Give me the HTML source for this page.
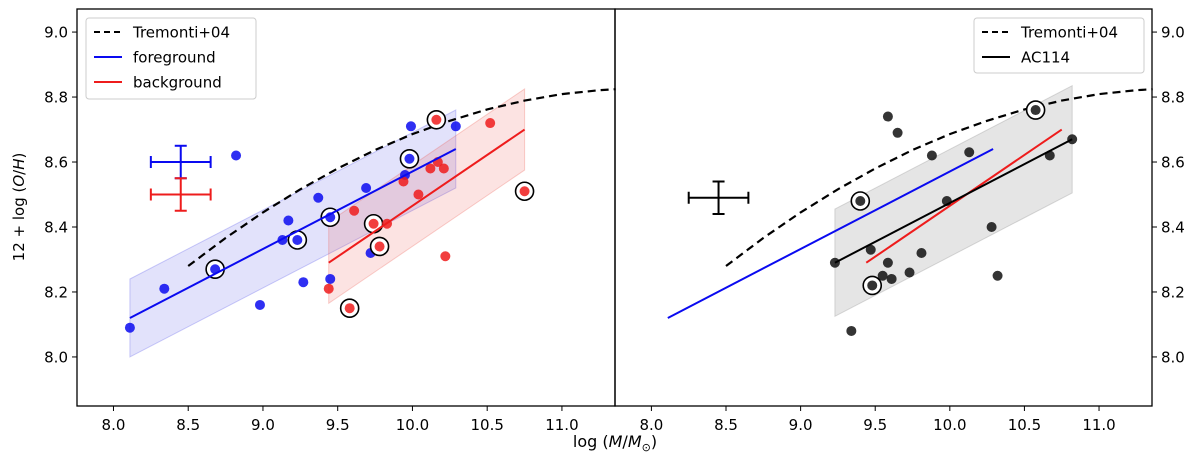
<!DOCTYPE html>
<html><head><meta charset="utf-8">
<style>
html,body{margin:0;padding:0;background:#fff;}
svg{display:block;font-family:"DejaVu Sans","Liberation Sans",sans-serif;}
</style></head>
<body>
<svg id="chart" width="1200" height="460" viewBox="0 0 1200 460" xmlns="http://www.w3.org/2000/svg"></svg>
<script>
// ---- data ----
const xTicks = [8.0, 8.5, 9.0, 9.5, 10.0, 10.5, 11.0];
const xTickLabels = ["8.0","8.5","9.0","9.5","10.0","10.5","11.0"];
const yTicks = [8.0, 8.2, 8.4, 8.6, 8.8, 9.0];
const yTickLabels = ["8.0","8.2","8.4","8.6","8.8","9.0"];
const tremontiX = [8.5, 8.75, 9.0, 9.25, 9.5, 9.75, 10.0, 10.25, 10.5, 10.75, 11.0, 11.25, 11.36];
const tremontiY = [8.28, 8.366, 8.445, 8.516, 8.58, 8.637, 8.686, 8.727, 8.762, 8.789, 8.809, 8.821, 8.824];
const fgMass = [8.11, 8.34, 8.68, 8.82, 8.98, 9.13, 9.23, 9.17, 9.27, 9.37, 9.45, 9.45, 9.69, 9.72, 9.95, 9.98, 9.99, 10.29];
const fgOH   = [8.09, 8.21, 8.27, 8.62, 8.16, 8.36, 8.36, 8.42, 8.23, 8.49, 8.43, 8.24, 8.52, 8.32, 8.56, 8.61, 8.71, 8.71];
const fgCircled = [0,0,1,0,0,0,1,0,0,0,1,0,0,0,0,1,0,0];
const bgMass = [9.44, 9.58, 9.61, 9.74, 9.83, 9.78, 9.94, 10.04, 10.12, 10.17, 10.21, 10.16, 10.22, 10.52, 10.75];
const bgOH   = [8.21, 8.15, 8.45, 8.41, 8.41, 8.34, 8.54, 8.50, 8.58, 8.60, 8.58, 8.73, 8.31, 8.72, 8.51];
const bgCircled = [0,1,0,1,0,1,0,0,0,0,0,1,0,0,1];
const acMass = [9.585, 9.65, 9.40, 9.88, 10.13, 10.575, 10.67, 10.82, 9.98, 10.28, 10.32, 9.23, 9.47, 9.585, 9.81, 9.55, 9.61, 9.73, 9.48, 9.34];
const acOH   = [8.74, 8.69, 8.48, 8.62, 8.63, 8.76, 8.62, 8.67, 8.48, 8.40, 8.25, 8.29, 8.33, 8.29, 8.32, 8.25, 8.24, 8.26, 8.22, 8.08];
const acCircled = [0,0,1,0,0,1,0,0,0,0,0,0,0,0,0,0,0,0,1,0];
const fgFitX = [8.11, 10.29]; const fgFitY = [8.12, 8.64]; const fgBand = 0.12;
const bgFitX = [9.44, 10.75]; const bgFitY = [8.29, 8.70]; const bgBand = 0.125;
const acFitX = [9.23, 10.82]; const acFitY = [8.29, 8.67]; const acBand = 0.165;
const errFg = [8.45, 8.60, 0.2, 0.05];
const errBg = [8.45, 8.50, 0.2, 0.05];
const errAc = [8.45, 8.49, 0.2, 0.05];

const NS = "http://www.w3.org/2000/svg";
const svg = document.getElementById('chart');
const XMIN = 7.756, XMAX = 11.355, YMIN = 7.849, YMAX = 9.071;
const TOP = 9, BOT = 406;
const panels = [{l:77, r:615}, {l:615, r:1152}];
function sx(p, v){ return p.l + (v - XMIN) / (XMAX - XMIN) * (p.r - p.l); }
function sy(v){ return BOT - (v - YMIN) / (YMAX - YMIN) * (BOT - TOP); }
function el(tag, attrs, parent){ const e = document.createElementNS(NS, tag); for (const k in attrs) e.setAttribute(k, attrs[k]); (parent||svg).appendChild(e); return e; }

const BLUE = "#0a0af0", RED = "#ee1c1c";

function band(p, fx, fy, w, fill, stroke, name){
  const pts = [[fx[0], fy[0]+w],[fx[1], fy[1]+w],[fx[1], fy[1]-w],[fx[0], fy[0]-w]].map(q => sx(p,q[0]).toFixed(1)+","+sy(q[1]).toFixed(1)).join(" ");
  const e = el('polygon', {points: pts, fill: fill, stroke: stroke, 'stroke-width': 1});
  
  
}
function line(p, fx, fy, color, name){
  const e = el('line', {x1: sx(p,fx[0]), y1: sy(fy[0]), x2: sx(p,fx[1]), y2: sy(fy[1]), stroke: color, 'stroke-width': 2});
  
  
}
function tremonti(p, name){
  const d = tremontiX.map((x,i) => (i?"L":"M") + sx(p,x).toFixed(1) + "," + sy(tremontiY[i]).toFixed(1)).join(" ");
  const e = el('path', {d: d, fill: 'none', stroke: '#000', 'stroke-width': 2.2, 'stroke-dasharray': '8,5'});
  
  
}
function points(p, xs, ys, circ, color, name){
  const g = el('g', {});
  
  
  xs.forEach((x,i) => {
    const cx = sx(p,x), cy = sy(ys[i]);
    if (circ[i]) {
      const c = el('circle', {cx: cx, cy: cy, r: 9, fill: '#fff', stroke: '#000', 'stroke-width': 1.6}, g);
      
      
    }
    const d = el('circle', {cx: cx, cy: cy, r: 5, fill: color, 'fill-opacity': 0.85}, g);
    
    
  });
}
function errbar(p, e, color, name){
  const g = el('g', {stroke: color, 'stroke-width': 2});
  
  
  const cx = sx(p,e[0]), cy = sy(e[1]);
  const x0 = sx(p,e[0]-e[2]), x1 = sx(p,e[0]+e[2]), y0 = sy(e[1]+e[3]), y1 = sy(e[1]-e[3]);
  el('line', {x1:x0, y1:cy, x2:x1, y2:cy}, g);
  el('line', {x1:cx, y1:y0, x2:cx, y2:y1}, g);
  el('line', {x1:x0, y1:cy-6, x2:x0, y2:cy+6}, g);
  el('line', {x1:x1, y1:cy-6, x2:x1, y2:cy+6}, g);
  el('line', {x1:cx-6, y1:y0, x2:cx+6, y2:y0}, g);
  el('line', {x1:cx-6, y1:y1, x2:cx+6, y2:y1}, g);
}
function text(x, y, s, anchor, name, extra){
  const t = el('text', Object.assign({x:x, y:y, 'font-size': 15, 'text-anchor': anchor||'start', fill:'#000'}, extra||{}));
  t.textContent = s;
  
  
  return t;
}
function axes(p, idx){
  const frame = el('rect', {x:p.l, y:TOP, width:p.r-p.l, height:BOT-TOP, fill:'none', stroke:'#000', 'stroke-width':1.3});
  
  
  xTicks.forEach((v,i) => {
    const x = sx(p,v);
    el('line', {x1:x, y1:BOT, x2:x, y2:BOT+5, stroke:'#000', 'stroke-width':1});
    text(x, BOT+24, xTickLabels[i], 'middle', 'x-tick-label');
  });
  yTicks.forEach((v,i) => {
    const y = sy(v);
    if (idx === 0) {
      el('line', {x1:p.l, y1:y, x2:p.l-5, y2:y, stroke:'#000', 'stroke-width':1});
      text(p.l-9, y+5.5, yTickLabels[i], 'end', 'y-tick-label');
    } else {
      el('line', {x1:p.r, y1:y, x2:p.r+5, y2:y, stroke:'#000', 'stroke-width':1});
      text(p.r+9, y+5.5, yTickLabels[i], 'start', 'y-tick-label-right');
    }
  });
}

const L = panels[0], R = panels[1];
band(L, fgFitX, fgFitY, fgBand, 'rgba(60,60,230,0.15)', 'rgba(60,60,230,0.25)', 'foreground-band');
band(L, bgFitX, bgFitY, bgBand, 'rgba(235,70,60,0.15)', 'rgba(235,70,60,0.25)', 'background-band');
tremonti(L, 'tremonti-curve-left');
points(L, fgMass, fgOH, fgCircled, BLUE, 'foreground-points');
points(L, bgMass, bgOH, bgCircled, RED, 'background-points');
line(L, fgFitX, fgFitY, BLUE, 'foreground-fit');
line(L, bgFitX, bgFitY, RED, 'background-fit');
errbar(L, errFg, BLUE, 'foreground-errorbar');
errbar(L, errBg, RED, 'background-errorbar');
band(R, acFitX, acFitY, acBand, 'rgba(150,150,150,0.25)', 'rgba(150,150,150,0.35)', 'ac114-band');
tremonti(R, 'tremonti-curve-right');
line(R, fgFitX, fgFitY, BLUE, 'foreground-fit-right');
line(R, bgFitX, bgFitY, RED, 'background-fit-right');
points(R, acMass, acOH, acCircled, '#111', 'ac114-points');
line(R, acFitX, acFitY, '#000', 'ac114-fit');
errbar(R, errAc, '#000', 'ac114-errorbar');
axes(L, 0); axes(R, 1);

text(615, 447, 'log (', 'middle', 'x-axis-title', {'font-size':16}).innerHTML = 'log (<tspan font-style="italic">M</tspan>/<tspan font-style="italic">M</tspan><tspan font-size="11" dy="4">⊙</tspan><tspan dy="-4">)</tspan>';
const yt = text(0, 0, '', 'middle', 'y-axis-title', {'font-size':15, transform:'translate(24,207) rotate(-90)'});
yt.innerHTML = '12 + log (<tspan font-style="italic">O</tspan>/<tspan font-style="italic">H</tspan>)';

function legend(x, y, w, h, entries, name){
  const g = el('g', {});
  
  
  el('rect', {x:x, y:y, width:w, height:h, rx:3, fill:'#fff', 'fill-opacity':0.85, stroke:'#ccc', 'stroke-width':1}, g);
  entries.forEach((e,i) => {
    const cy = y + 14 + i*25;
    const ln = el('line', {x1:x+8, y1:cy, x2:x+36, y2:cy, stroke:e[1], 'stroke-width':2}, g);
    if (e[2]) ln.setAttribute('stroke-dasharray', '6,4');
    
    
    const t = el('text', {x:x+47, y:cy+5.5, 'font-size':15}, g);
    t.textContent = e[0];
    
    
  });
}
legend(86, 18, 170, 81, [['Tremonti+04','#000',1],['foreground',BLUE,0],['background',RED,0]], 'left-legend');
legend(974, 18, 170, 55, [['Tremonti+04','#000',1],['AC114','#000',0]], 'right-legend');
</script>
</body></html>
